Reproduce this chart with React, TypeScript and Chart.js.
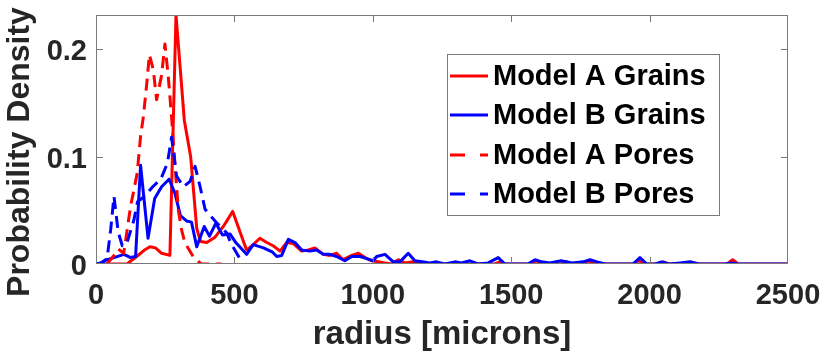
import React, { useEffect, useRef } from 'react';
import { Chart, registerables } from 'chart.js';

Chart.register(...registerables);

const seriesLabels = ['Model A Grains', 'Model B Grains', 'Model A Pores', 'Model B Pores'];
const seriesColors = ['#ff0000', '#0000ff', '#ff0000', '#0000ff'];
const seriesDashed = [false, false, true, true];

const aGrainsX = [0, 40, 80, 112, 147, 175, 195, 215, 237, 267, 289, 319, 342, 364, 378, 400, 430, 460, 494, 520, 544, 568, 592, 617, 640, 665, 689, 713, 743, 767, 791, 821, 845, 869, 893, 924, 948, 972, 996, 1020, 1044, 1068, 1092, 1116, 1146, 1170, 1200, 1440, 1460, 1480, 1570, 1590, 1610, 1680, 1700, 1720, 1760, 1780, 1800, 1940, 1960, 1980, 2030, 2050, 2070, 2130, 2150, 2170, 2280, 2300, 2320, 2500];
const aGrainsY = [0, 0, 0, 0, 0.007, 0.013, 0.016, 0.015, 0.010, 0.008, 0.232, 0.134, 0.100, 0.033, 0.021, 0.020, 0.025, 0.035, 0.049, 0.030, 0.013, 0.018, 0.024, 0.020, 0.017, 0.012, 0.020, 0.019, 0.012, 0.013, 0.015, 0.009, 0.008, 0.010, 0.004, 0.008, 0.010, 0.006, 0.003, 0.002, 0.001, 0, 0.004, 0.001, 0.002, 0, 0, 0, 0.002, 0, 0, 0.003, 0, 0, 0.002, 0, 0, 0.003, 0, 0, 0.003, 0, 0, 0.002, 0, 0, 0.002, 0, 0, 0.004, 0, 0];

const bGrainsX = [0, 17, 40, 65, 101, 125, 143, 161, 188, 212, 237, 264, 285, 305, 328, 345, 364, 391, 410, 433, 457, 484, 505, 544, 568, 605, 638, 653, 671, 695, 719, 743, 773, 797, 821, 845, 869, 899, 924, 954, 978, 1002, 1014, 1044, 1074, 1098, 1128, 1152, 1180, 1206, 1230, 1260, 1297, 1320, 1351, 1380, 1417, 1453, 1477, 1560, 1586, 1610, 1640, 1680, 1720, 1760, 1785, 1810, 1840, 1940, 1965, 1990, 2020, 2043, 2070, 2110, 2146, 2180, 2270, 2296, 2320, 2500];
const bGrainsY = [0, 0.001, 0.004, 0.006, 0.009, 0.006, 0.007, 0.092, 0.024, 0.061, 0.072, 0.079, 0.066, 0.045, 0.040, 0.039, 0.016, 0.035, 0.026, 0.038, 0.027, 0.028, 0.020, 0.009, 0.018, 0.015, 0.011, 0.007, 0.008, 0.023, 0.020, 0.013, 0.012, 0.013, 0.009, 0.009, 0.007, 0.003, 0.007, 0.007, 0.005, 0.003, 0.007, 0.009, 0.002, 0.002, 0.010, 0.003, 0.002, 0.001, 0.002, 0, 0.002, 0.001, 0.003, 0, 0.001, 0.006, 0, 0, 0.004, 0.002, 0.001, 0.003, 0.001, 0.002, 0.004, 0.002, 0, 0, 0.006, 0, 0, 0.002, 0, 0.001, 0.002, 0, 0, 0.001, 0, 0];

const aPoresX = [40, 65, 80, 100, 111, 125, 137, 149, 161, 171, 183, 193, 207, 219, 237, 249, 261, 273, 297, 309, 321, 351, 380, 454];
const aPoresY = [0, 0.008, 0.014, 0.010, 0.029, 0.054, 0.069, 0.085, 0.119, 0.137, 0.167, 0.195, 0.181, 0.153, 0.176, 0.205, 0.175, 0.137, 0.051, 0.032, 0.020, 0.007, 0, 0];

const bPoresX = [0, 20, 40, 53, 65, 80, 95, 110, 137, 150, 175, 205, 234, 258, 273, 291, 316, 340, 358, 376, 394, 430, 472, 490, 520];
const bPoresY = [0, 0.001, 0.005, 0.032, 0.063, 0.030, 0.017, 0.018, 0.041, 0.058, 0.063, 0.072, 0.079, 0.094, 0.118, 0.082, 0.072, 0.077, 0.091, 0.072, 0.051, 0.040, 0.029, 0.018, 0.005];

const xTicks = [0, 500, 1000, 1500, 2000, 2500];
const yTicks = [0, 0.1, 0.2];
const yTickLabels = ['0', '0.1', '0.2'];
const xMin = 0, xMax = 2500, yMin = 0, yMax = 0.232;
const xTitle = 'radius [microns]';
const yTitle = 'Probability Density';

const seriesX = [aGrainsX, bGrainsX, aPoresX, bPoresX];
const seriesY = [aGrainsY, bGrainsY, aPoresY, bPoresY];

const TEXT = '#262626';
const AXIS = '#7a7a7a';
const FONT = '"Liberation Sans", Arial, sans-serif';

const boxPlugin = {
  id: 'matlabBox',
  afterDatasetsDraw(chart: any) {
    const { ctx, chartArea, scales } = chart;
    const { left, right, top, bottom } = chartArea;
    ctx.save();
    ctx.strokeStyle = AXIS;
    ctx.lineWidth = 1;
    ctx.strokeRect(left + 0.5, top + 0.5, right - left - 1, bottom - top - 1);
    ctx.beginPath();
    const tl = 7;
    xTicks.forEach((v) => {
      const px = Math.round(scales.x.getPixelForValue(v)) + 0.5;
      if (px <= left + 1 || px >= right - 1) return;
      ctx.moveTo(px, bottom);
      ctx.lineTo(px, bottom - tl);
      ctx.moveTo(px, top);
      ctx.lineTo(px, top + tl);
    });
    yTicks.forEach((v) => {
      const py = Math.round(scales.y.getPixelForValue(v)) + 0.5;
      if (py >= bottom - 1 || py <= top + 1) return;
      ctx.moveTo(left, py);
      ctx.lineTo(left + tl, py);
      ctx.moveTo(right, py);
      ctx.lineTo(right - tl, py);
    });
    ctx.stroke();
    ctx.restore();
  },
};

// y-axis title drawn rotated, centred where the reference places it
const yTitlePlugin = {
  id: 'yTitle',
  afterDraw(chart: any) {
    const { ctx } = chart;
    ctx.save();
    ctx.translate(20, 152);
    ctx.rotate(-Math.PI / 2);
    ctx.fillStyle = TEXT;
    ctx.font = `bold 32px ${FONT}`;
    ctx.textAlign = 'center';
    ctx.textBaseline = 'middle';
    ctx.fillText(yTitle, 0, 0);
    ctx.restore();
  },
};

const legendPlugin = {
  id: 'matlabLegend',
  afterDraw(chart: any) {
    const { ctx } = chart;
    const bx = 447, by = 54, bw = 272, bh = 161;
    ctx.save();
    ctx.fillStyle = '#ffffff';
    ctx.fillRect(bx, by, bw, bh);
    ctx.strokeStyle = AXIS;
    ctx.lineWidth = 1;
    ctx.strokeRect(bx + 0.5, by + 0.5, bw, bh);
    const rowY = [76, 115, 155, 194];
    chart.data.datasets.forEach((ds: any, i: number) => {
      const y = rowY[i];
      ctx.strokeStyle = ds.borderColor;
      ctx.lineWidth = 3;
      ctx.beginPath();
      if (seriesDashed[i]) {
        ctx.moveTo(450, y); ctx.lineTo(465, y);
        ctx.moveTo(480, y); ctx.lineTo(488, y);
      } else {
        ctx.moveTo(450, y); ctx.lineTo(488, y);
      }
      ctx.stroke();
      ctx.fillStyle = '#000000';
      ctx.font = `bold 29px ${FONT}`;
      ctx.textBaseline = 'middle';
      ctx.textAlign = 'left';
      ctx.fillText(ds.label, 493, y + 1);
    });
    ctx.restore();
  },
};

export default function App() {
  const canvasRef = useRef<HTMLCanvasElement | null>(null);

  useEffect(() => {
    document.body.style.margin = '0';
    const canvas = canvasRef.current;
    if (!canvas) return;
    const datasets = seriesLabels.map((label, i) => ({
      label,
      data: seriesX[i].map((x, j) => ({ x, y: seriesY[i][j] })),
      borderColor: seriesColors[i],
      backgroundColor: seriesColors[i],
      borderWidth: 3,
      borderDash: seriesDashed[i] ? [12, 7] : [],
      borderJoinStyle: 'round' as const,
      pointRadius: 0,
      tension: 0,
      fill: false,
      order: 3 - i,
    }));
    const chart = new Chart(canvas, {
      type: 'line',
      data: { datasets },
      options: {
        responsive: false,
        animation: false,
        devicePixelRatio: 1,
        layout: { padding: { top: 15, right: 38, left: 0, bottom: 0 } },
        plugins: { legend: { display: false }, tooltip: { enabled: false } },
        scales: {
          x: {
            type: 'linear',
            min: xMin,
            max: xMax,
            afterFit: (s: any) => { s.height = 92; s.paddingLeft = 0; s.paddingRight = 0; },
            afterBuildTicks: (s: any) => { s.ticks = xTicks.map((v) => ({ value: v })); },
            grid: { display: false, drawTicks: false },
            border: { display: false },
            ticks: {
              padding: 15,
              color: TEXT,
              font: { family: FONT, size: 29, weight: 'bold' },
              callback: (v: any) => String(v),
              maxRotation: 0,
            },
            title: {
              display: true,
              text: xTitle,
              color: TEXT,
              font: { family: FONT, size: 33, weight: 'bold' },
              padding: { top: 0, bottom: 1 },
            },
          },
          y: {
            type: 'linear',
            min: yMin,
            max: yMax,
            afterFit: (s: any) => { s.width = 96; s.paddingTop = 0; s.paddingBottom = 0; },
            afterBuildTicks: (s: any) => { s.ticks = yTicks.map((v) => ({ value: v })); },
            grid: { display: false, drawTicks: false },
            border: { display: false },
            ticks: {
              padding: 9,
              labelOffset: 3,
              color: TEXT,
              font: { family: FONT, size: 29, weight: 'bold' },
              callback: (v: any) => {
                const k = yTicks.findIndex((t) => Math.abs(t - Number(v)) < 1e-9);
                return k >= 0 ? yTickLabels[k] : '';
              },
            },
            title: { display: false, text: yTitle },
          },
        },
      },
      plugins: [boxPlugin, yTitlePlugin, legendPlugin],
    });
    return () => chart.destroy();
  }, []);

  return (
    <div style={{ width: 826, height: 356 }}>
      <canvas ref={canvasRef} width={826} height={356} style={{ display: 'block' }} />
    </div>
  );
}
